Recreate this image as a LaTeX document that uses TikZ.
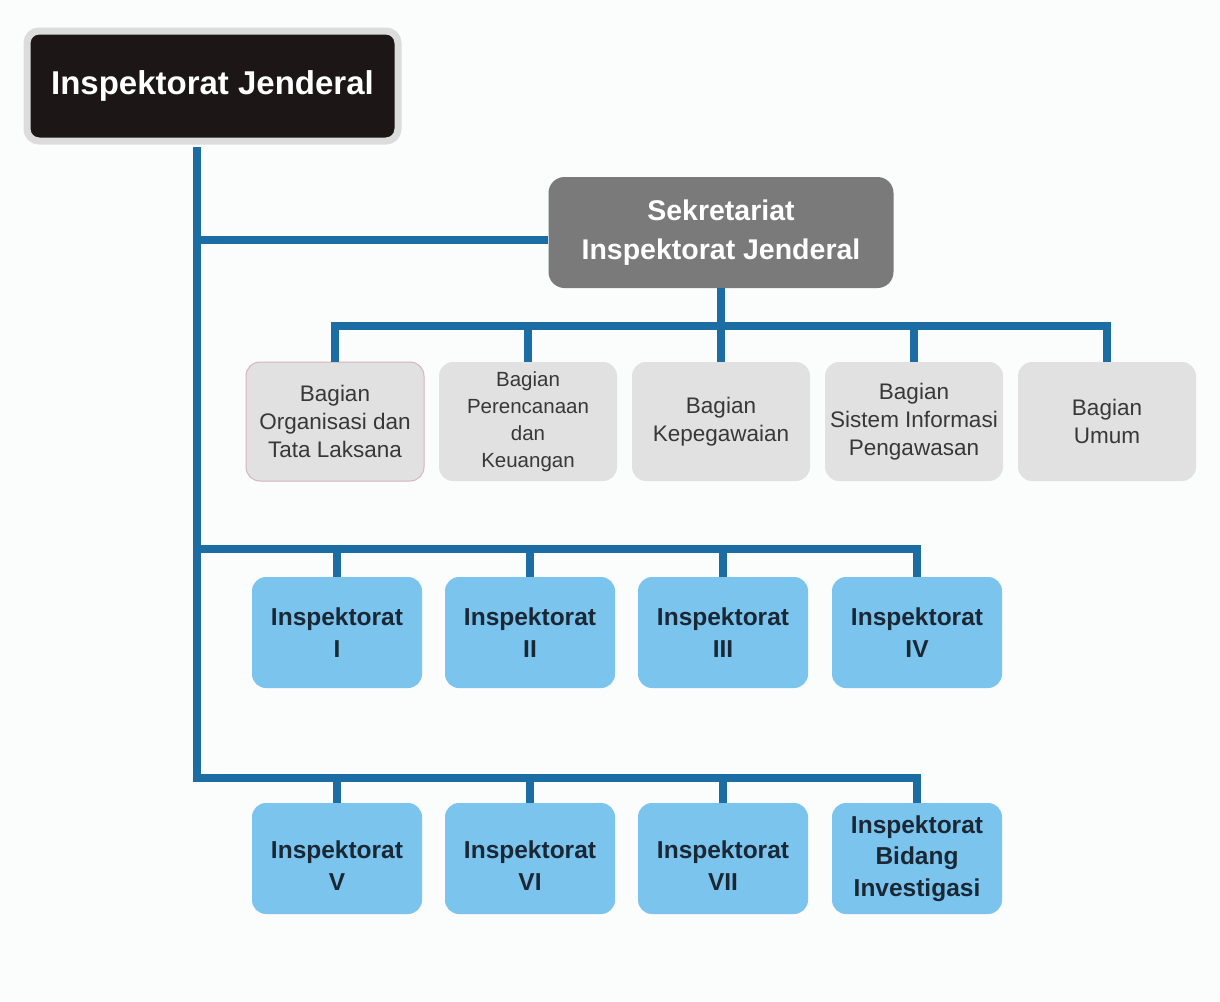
\documentclass[tikz,border=0pt]{standalone}
\usepackage{fontspec}
\setmainfont{Liberation Sans}
\begin{document}
\begin{tikzpicture}[x=1pt,y=-1pt,
  conn/.style={draw=linkblue,line width=8pt,line join=miter},
  bagbox/.style={rectangle,rounded corners=14pt,fill=baggray,text=bagtext,
     minimum width=178pt,minimum height=119pt,inner sep=0pt,align=center,
     font=\fontsize{22.5}{28}\selectfont},
  insbox/.style={rectangle,rounded corners=14pt,fill=insblue,text=instext,
     minimum width=170pt,minimum height=111pt,inner sep=0pt,align=center,
     font=\fontsize{24.5}{31.5}\selectfont\bfseries}]
\definecolor{linkblue}{HTML}{1D6DA5}
\definecolor{baggray}{HTML}{E1E1E1}
\definecolor{bagtext}{HTML}{383838}
\definecolor{insblue}{HTML}{7BC4EE}
\definecolor{instext}{HTML}{1A2836}
\definecolor{sekgray}{HTML}{7A7A7A}
\definecolor{topfill}{HTML}{1C1616}
\definecolor{topborder}{HTML}{DCDCDC}
\definecolor{bgcol}{HTML}{FBFCFC}

\fill[bgcol] (0,0) rectangle (1220,1001);
\useasboundingbox (0,0) rectangle (1220,1001);

% coordinates of the trunk
\coordinate (t0) at (197,147);
\coordinate (t1) at (197,240);
\coordinate (t2) at (197,549);
\coordinate (t3) at (197,778);
\coordinate (b0) at (721,326);

% nodes
\node[rectangle,rounded corners=12pt,fill=topfill,draw=topborder,line width=7pt,
      minimum width=371pt,minimum height=110pt,inner sep=0pt,text=white,
      font=\fontsize{33}{40}\selectfont\bfseries] (ij) at (212.5,86) {\raisebox{5pt}{Inspektorat Jenderal}};

\node[rectangle,rounded corners=16pt,fill=sekgray,text=white,
      minimum width=345pt,minimum height=111pt,inner sep=0pt,align=center,
      font=\fontsize{28.5}{39}\selectfont\bfseries] (sek) at (721,232.5)
      {Sekretariat\\Inspektorat Jenderal};

\node[bagbox,draw={rgb,255:red,214;green,180;blue,190},line width=1pt] (b1) at (335,421.5) {Bagian\\Organisasi dan\\Tata Laksana};
\node[bagbox,font=\fontsize{20.5}{27}\selectfont] (b2) at (528,421.5) {Bagian\\Perencanaan\\dan\\Keuangan};
\node[bagbox] (b3) at (721,421.5) {Bagian\\Kepegawaian};
\node[bagbox] (b4) at (914,421.5) {Bagian\\Sistem Informasi\\Pengawasan};
\node[bagbox] (b5) at (1107,421.5) {Bagian\\Umum};

\node[insbox] (i1) at (337,632.5) {Inspektorat\\I};
\node[insbox] (i2) at (530,632.5) {Inspektorat\\II};
\node[insbox] (i3) at (723,632.5) {Inspektorat\\III};
\node[insbox] (i4) at (917,632.5) {Inspektorat\\IV};

\node[insbox] (i5) at (337,858.5) {\rule{0pt}{32pt}Inspektorat\\V};
\node[insbox] (i6) at (530,858.5) {\rule{0pt}{32pt}Inspektorat\\VI};
\node[insbox] (i7) at (723,858.5) {\rule{0pt}{32pt}Inspektorat\\VII};
\node[insbox] (i8) at (917,858.5) {Inspektorat\\Bidang\\Investigasi};

% connectors
\draw[conn] (t0) -- (t3) -| (i8.north);
\draw[conn] (t1) -- (t1 -| sek.west);
\draw[conn] (sek.south) -- (b0);
\draw[conn] (b1.north) |- (b0) -| (b5.north);
\foreach \n in {b2,b3,b4} \draw[conn] (\n.north) -- (\n.north |- b0);
\draw[conn] (t2) -| (i4.north);
\foreach \n in {i1,i2,i3} \draw[conn] (\n.north) -- (\n.north |- t2);
\foreach \n in {i5,i6,i7} \draw[conn] (\n.north) -- (\n.north |- t3);
\end{tikzpicture}
\end{document}
